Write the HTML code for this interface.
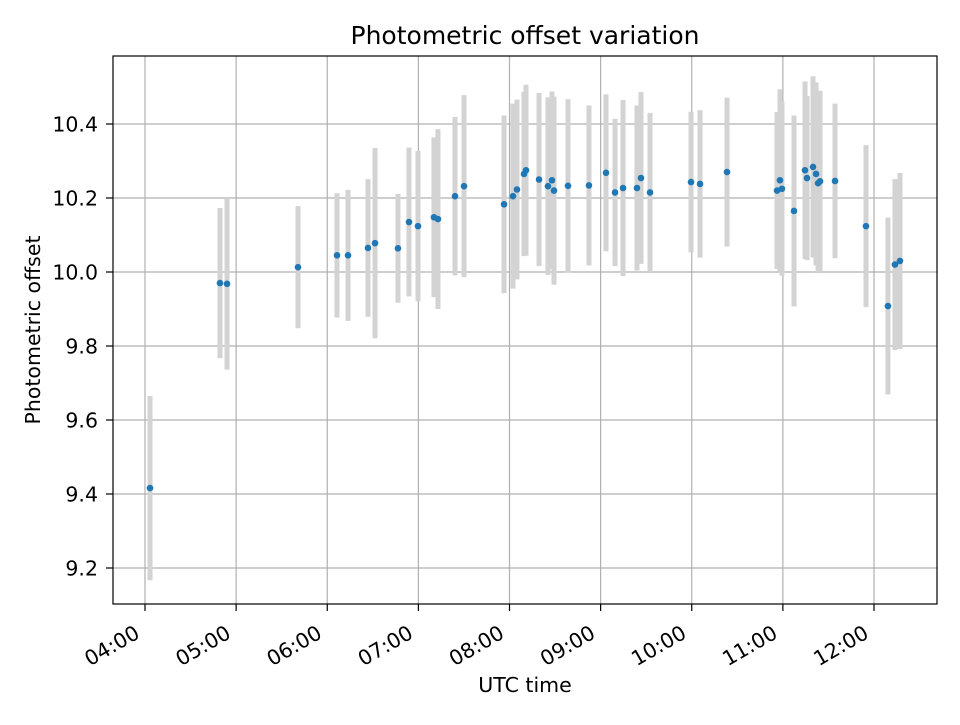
<!DOCTYPE html>
<html><head><meta charset="utf-8"><style>
body{margin:0;background:#fff}
svg text{font-family:"DejaVu Sans","Liberation Sans",sans-serif;fill:#000}
</style></head><body>
<svg id="chart" width="960" height="720" xmlns="http://www.w3.org/2000/svg">
<rect width="960" height="720" fill="#fff"/>
<g id="grid"></g><g id="bars"></g><g id="pts"></g><g id="axes"></g>
</svg>
<script>
const times=[4.055,4.823,4.90,5.679,6.107,6.228,6.447,6.524,6.776,6.897,6.996,7.171,7.215,7.402,7.501,7.940,8.038,8.082,8.159,8.181,8.324,8.422,8.466,8.488,8.642,8.872,9.059,9.158,9.246,9.399,9.443,9.542,9.992,10.091,10.387,10.936,10.968,10.990,11.122,11.243,11.265,11.331,11.364,11.386,11.408,11.572,11.912,12.153,12.230,12.285];
const offsets=[9.416,9.970,9.968,10.013,10.045,10.045,10.065,10.078,10.064,10.135,10.124,10.148,10.143,10.205,10.232,10.183,10.205,10.223,10.265,10.275,10.250,10.232,10.248,10.220,10.233,10.234,10.268,10.215,10.227,10.227,10.254,10.215,10.243,10.238,10.270,10.220,10.248,10.225,10.165,10.275,10.254,10.284,10.265,10.240,10.245,10.246,10.124,9.908,10.020,10.030];
const errors=[0.249,0.203,0.232,0.165,0.168,0.177,0.186,0.257,0.147,0.201,0.203,0.216,0.243,0.214,0.246,0.240,0.250,0.243,0.222,0.231,0.234,0.240,0.240,0.254,0.234,0.216,0.212,0.199,0.238,0.223,0.232,0.215,0.190,0.199,0.201,0.212,0.246,0.235,0.258,0.240,0.222,0.245,0.247,0.243,0.245,0.209,0.219,0.239,0.231,0.238];
const xTicks=[4,5,6,7,8,9,10,11,12];
const xTickLabels=["04:00","05:00","06:00","07:00","08:00","09:00","10:00","11:00","12:00"];
const yTicks=[9.2,9.4,9.6,9.8,10.0,10.2,10.4];
const yTickLabels=["9.2","9.4","9.6","9.8","10.0","10.2","10.4"];

const L=113,R=937,T=56,B=604;
const X=h=>145+(h-4)*91.125;
const Y=v=>272-(v-10)*370;
const NS="http://www.w3.org/2000/svg";
function mk(tag,attrs,parent,txt){const e=document.createElementNS(NS,tag);for(const k in attrs)e.setAttribute(k,attrs[k]);if(txt!==undefined)e.textContent=txt;parent.appendChild(e);return e;}
const grid=document.getElementById('grid'),bars=document.getElementById('bars'),pts=document.getElementById('pts'),axes=document.getElementById('axes');
xTicks.forEach((t,i)=>{
  const x=X(t);
  const g=mk('line',{x1:x,x2:x,y1:T,y2:B,stroke:'#b0b0b0','stroke-width':1.2},grid);
  
  
  mk('line',{x1:x,x2:x,y1:B,y2:B+7,stroke:'#000','stroke-width':1.2},axes);
  const x0=x-4,y0=B+33;
  const tx=mk('text',{x:x0,y:y0,'font-size':20.5,'text-anchor':'end',transform:`rotate(-30 ${x0} ${y0})`},axes,xTickLabels[i]);
  
  
});
yTicks.forEach((t,i)=>{
  const y=Y(t);
  const g=mk('line',{x1:L,x2:R,y1:y,y2:y,stroke:'#b0b0b0','stroke-width':1.2},grid);
  
  
  mk('line',{x1:L-7,x2:L,y1:y,y2:y,stroke:'#000','stroke-width':1.2},axes);
  const tx=mk('text',{x:98,y:y+7.5,'font-size':20.5,'text-anchor':'end'},axes,yTickLabels[i]);
  
  
});
times.forEach((t,i)=>{
  const x=X(t);
  const b=mk('line',{x1:x,x2:x,y1:Y(offsets[i]+errors[i]),y2:Y(offsets[i]-errors[i]),stroke:'#d3d3d3','stroke-width':5},bars);
  
  
  const p=mk('circle',{cx:x,cy:Y(offsets[i]),r:3.3,fill:'#1f77b4'},pts);
  
  
});
const fr=mk('rect',{x:L,y:T,width:R-L,height:B-T,fill:'none',stroke:'#000','stroke-width':1.2},axes);


const ti=mk('text',{x:525,y:44,'font-size':25,'text-anchor':'middle'},axes,'Photometric offset variation');


const xl=mk('text',{x:525,y:692,'font-size':20.5,'text-anchor':'middle'},axes,'UTC time');


const yl=mk('text',{x:40,y:330,'font-size':20.5,'text-anchor':'middle',transform:'rotate(-90 40 330)'},axes,'Photometric offset');


</script>
</body></html>
